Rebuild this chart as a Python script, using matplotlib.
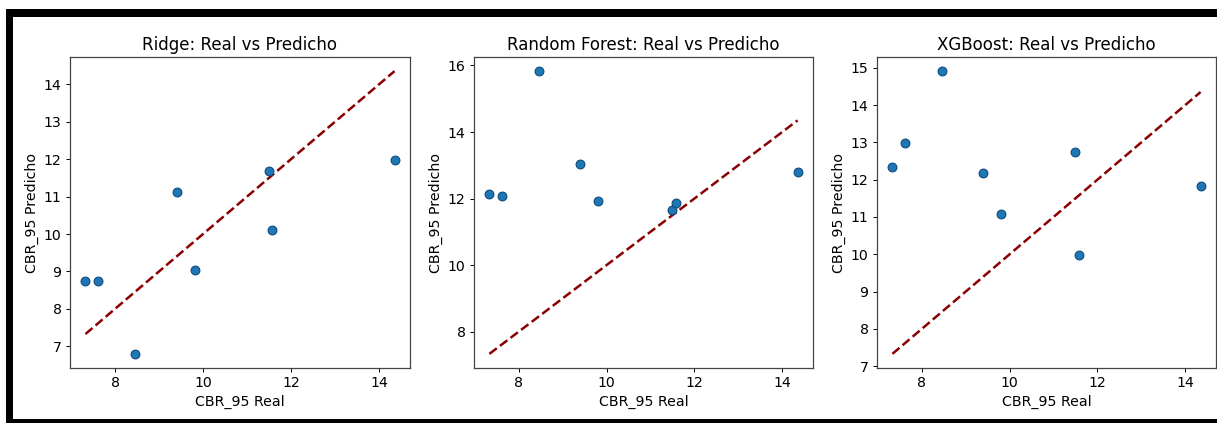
import matplotlib.pyplot as plt
from matplotlib.patches import Rectangle
from matplotlib.ticker import MultipleLocator
import numpy as np

# real CBR_95 values (same for all three models)
y_real = np.array([7.33, 7.62, 8.45, 9.40, 9.81, 11.49, 11.57, 14.35])

# predictions
pred_ridge = np.array([8.74, 8.74, 6.80, 11.11, 9.05, 11.69, 10.11, 11.99])
pred_rf = np.array([12.14, 12.07, 15.83, 13.03, 11.92, 11.66, 11.86, 12.81])
pred_xgb = np.array([12.34, 12.99, 14.91, 12.19, 11.07, 12.74, 9.97, 11.84])

model_names = ["Ridge", "Random Forest", "XGBoost"]
predictions = [pred_ridge, pred_rf, pred_xgb]

W, H = 1217, 423
fig = plt.figure(figsize=(W / 100, H / 100), dpi=100)

FS = 10.2
# axes boxes in pixels: (left, right, top, bottom)
boxes = [(70, 410, 57, 368), (474, 813, 57, 368), (877, 1216, 57, 368)]

for name, y_pred, (x0, x1, t, b) in zip(model_names, predictions, boxes):
    ax = fig.add_axes([x0 / W, (H - b) / H, (x1 - x0) / W, (b - t) / H])
    ax.scatter(y_real, y_pred, s=40, color="#1f77b4", edgecolors="#0d4a80", linewidths=0.8, zorder=3)
    lo, hi = y_real.min(), y_real.max()
    ax.plot([lo, hi], [lo, hi], "--", color="#8b0000", lw=1.8)
    ax.xaxis.set_major_locator(MultipleLocator(2))
    ax.set_title(f"{name}: Real vs Predicho", fontsize=12, pad=5)
    ax.set_xlabel("CBR_95 Real", fontsize=FS, labelpad=3)
    ax.set_ylabel("CBR_95 Predicho", fontsize=FS, labelpad=3)
    ax.tick_params(labelsize=FS, length=3.1, width=0.7, pad=3)
    for sp in ax.spines.values():
        sp.set_linewidth(0.9)
        sp.set_color("#444444")

# black screenshot frame
frame = dict(facecolor="black", edgecolor="none", transform=fig.transFigure)
fig.add_artist(Rectangle((6 / W, (H - 17) / H), 1 - 6 / W, 8 / H, **frame))
fig.add_artist(Rectangle((6 / W, 0), 7 / W, (H - 9) / H, **frame))
fig.add_artist(Rectangle((6 / W, 0), 1 - 6 / W, 4 / H, **frame))

fig.savefig("out.png", dpi=100)
